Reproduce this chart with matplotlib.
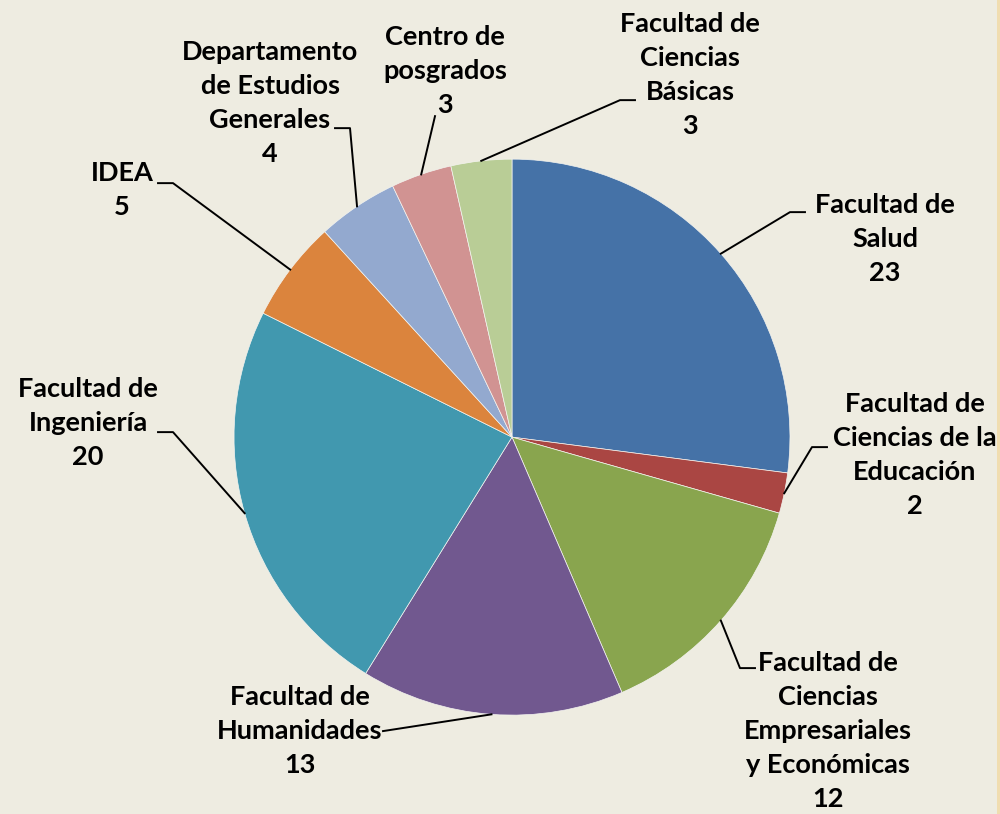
import numpy as np
import matplotlib.pyplot as plt
from matplotlib.patches import Rectangle

# faculties, clockwise from 12 o'clock
names = ['Facultad de\nSalud', 'Facultad de\nCiencias de la\nEducación',
         'Facultad de\nCiencias\nEmpresariales\ny Económicas',
         'Facultad de\nHumanidades', 'Facultad de\nIngeniería', 'IDEA',
         'Departamento\nde Estudios\nGenerales', 'Centro de\nposgrados',
         'Facultad de\nCiencias\nBásicas']
values = [23, 2, 12, 13, 20, 5, 4, 3, 3]
colors = ['#4572A7', '#AA4643', '#89A54E', '#71588F', '#4198AF',
          '#DB843D', '#93A9CF', '#D19392', '#B9CD96']

bg = '#EEECE1'
fig = plt.figure(figsize=(10, 8.14), dpi=100, facecolor=bg)
ax = fig.add_axes([0.234, 0.1215, 0.556, 0.683])
ax.set_facecolor(bg)

wedges, _ = ax.pie(values, colors=colors, startangle=90, counterclock=False,
                   wedgeprops=dict(linewidth=0.5, edgecolor='#F4F4F0'))
ax.set_xlim(-1, 1)
ax.set_ylim(-1, 1)
ax.set_aspect('equal')
ax.axis('off')

# label layout in pixels: text centre, elbow point, end of leader
layout = [
    ((885, 239), (805, 212), (790, 212)),
    ((915, 455), (827, 447), (812, 447)),
    ((828, 731), (755, 668), (740, 668)),
    ((300, 731), (383, 731), (383, 731)),
    ((88, 423), (158, 432), (173, 432)),
    ((122, 190), (158, 183), (173, 183)),
    ((270, 103), (335, 128), (350, 128)),
    ((445, 71), (435, 116), (435, 116)),
    ((690, 75), (635, 100), (620, 100)),
]

cx, cy, r = 512, 437, 278


def to_data(p):
    return ((p[0] - cx) / r, (cy - p[1]) / r)


for w, name, v, (txt, elbow, end) in zip(wedges, names, values, layout):
    mid = np.deg2rad((w.theta1 + w.theta2) / 2)
    edge = (np.cos(mid), np.sin(mid))
    e1 = to_data(elbow)
    e2 = to_data(end)
    ax.plot([edge[0], e2[0], e1[0]], [edge[1], e2[1], e1[1]],
            color='black', lw=1.4, clip_on=False, zorder=3)
    tx, ty = to_data(txt)
    ax.text(tx, ty, name + '\n' + str(v), ha='center', va='center',
            fontsize=19.5, fontweight='bold', family='Lato',
            linespacing=1.5, clip_on=False, zorder=4)

fig.patches.append(Rectangle((0.997, 0), 0.003, 1, transform=fig.transFigure,
                             facecolor='#F0DDB0', edgecolor='none'))

fig.savefig('out.png', dpi=100, facecolor=bg)
